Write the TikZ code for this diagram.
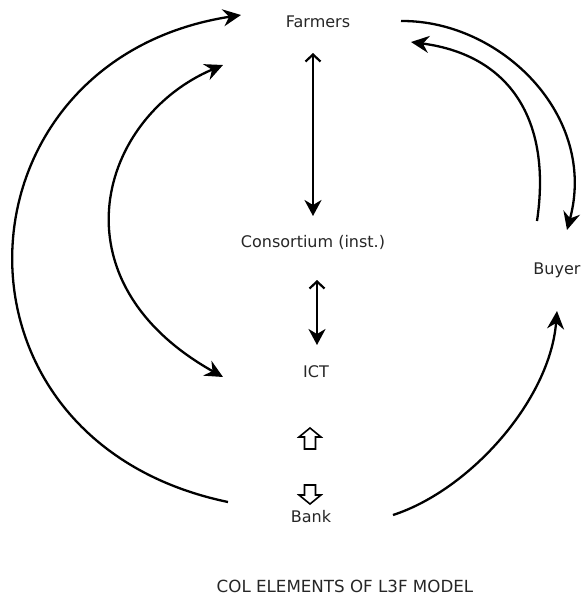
\documentclass[tikz,border=0pt]{standalone}
\usepackage{fontspec}
\setmainfont{DejaVu Sans}
\usetikzlibrary{arrows.meta}
\begin{document}
\begin{tikzpicture}[x=1pt,y=-1pt,
  lbl/.style={text=black!85,font=\fontsize{16}{19}\selectfont,inner sep=0pt},
  curv/.style={line width=2.3pt,-{Stealth[length=18pt,width=17pt,inset=6pt]}},
  curvboth/.style={line width=2.3pt,{Stealth[length=18pt,width=17pt,inset=6pt]}-{Stealth[length=18pt,width=17pt,inset=6pt]}},
  vert/.style={line width=2.5pt,{Straight Barb[length=7pt,width=15pt,line width=2.2pt]}-{Stealth[length=16pt,width=17pt,inset=5pt]}},
  hollow/.style={line width=1.6pt,line join=miter,fill=white}]
\useasboundingbox (0,0) rectangle (582,598);
\node[lbl] (farmers) at (318,22) {Farmers};
\node[lbl] (cons) at (313,242) {Consortium (inst.)};
\node[lbl] (buyer) at (557,270) {Buyer};
\node[lbl] (ict) at (316,372) {ICT};
\node[lbl] (bank) at (311,517) {Bank};
\node[lbl,font=\fontsize{16.7}{19}\selectfont] (title) at (345,586) {COL ELEMENTS OF L3F MODEL};
% named ends
\coordinate (fcTop) at (313,53);
\coordinate (fcBot) at (313,216);
\coordinate (ciTop) at (317,280);
\coordinate (ciBot) at (317,345);
\coordinate (bankL) at (228,502);
\coordinate (farmL) at (241,15);
\coordinate (farmL2) at (223,65);
\coordinate (ictL) at (223,377);
\coordinate (farmR) at (401,21);
\coordinate (buyTop) at (567,230);
\coordinate (buyTop2) at (537,221);
\coordinate (farmR2) at (411,42);
\coordinate (bankR) at (393,515);
\coordinate (buyBot) at (557,311);
% vertical arrows
\draw[vert] (fcTop) -- (fcBot);
\draw[vert] (ciTop) -- (ciBot);
% curved arrows
\draw[curv] (bankL) .. controls (-70,440) and (-50,60) .. (farmL);
\draw[curvboth] (farmL2) .. controls (100,117) and (50,280) .. (ictL);
\draw[curv] (farmR) .. controls (500,20) and (598,115) .. (buyTop);
\draw[curv] (buyTop2) .. controls (552,120) and (510,55) .. (farmR2);
\draw[curv] (bankR) .. controls (470,490) and (550,400) .. (buyBot);
% hollow block arrows
\draw[hollow] (310,428) -- (321,437) -- (315.5,437) -- (315.5,449) -- (304.5,449) -- (304.5,437) -- (299,437) -- cycle;
\draw[hollow] (310,504) -- (321,495) -- (315.5,495) -- (315.5,485) -- (304.5,485) -- (304.5,495) -- (299,495) -- cycle;
\end{tikzpicture}
\end{document}
